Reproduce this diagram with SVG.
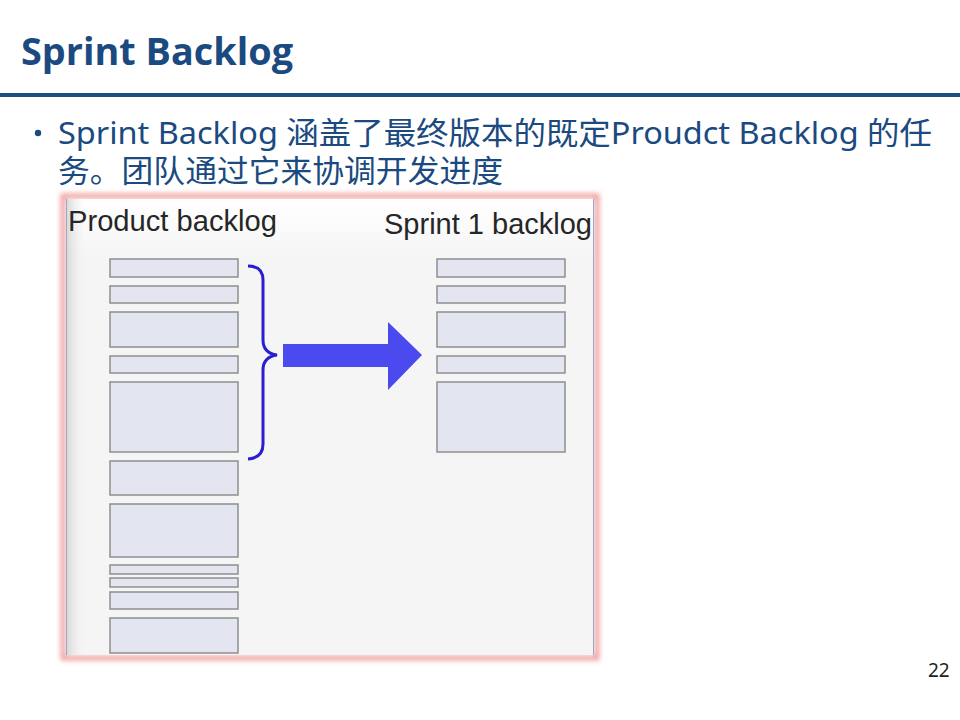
<svg xmlns="http://www.w3.org/2000/svg" width="960" height="720" viewBox="0 0 960 720">
<defs>
<style>
.title{font-family:"Open Sans","Noto Sans","Liberation Sans",sans-serif;font-weight:bold;font-size:37px;fill:#1a4a80}
.body{font-family:"Noto Sans","Noto Sans CJK SC",sans-serif;font-size:31px;fill:#1a4a80}
.lbl{font-family:"Liberation Sans",Arial,sans-serif;font-size:29px;fill:#262626}
.item{fill:#e3e6f0;stroke:#8e8e8e;stroke-width:1.5}
.pg{font-family:"Noto Sans","Liberation Sans",sans-serif;font-size:19px;fill:#222}
</style>
<linearGradient id="leftShade" x1="0" y1="0" x2="1" y2="0">
<stop offset="0" stop-color="#d6d6d6"/>
<stop offset="1" stop-color="#f5f5f5" stop-opacity="0"/>
</linearGradient>
<linearGradient id="topShade" x1="0" y1="0" x2="0" y2="1">
<stop offset="0" stop-color="#ffffff"/>
<stop offset="1" stop-color="#f5f5f5"/>
</linearGradient>
<filter id="glow" x="-5%" y="-5%" width="110%" height="110%">
<feGaussianBlur stdDeviation="2.5"/>
</filter>
</defs>
<rect width="960" height="720" fill="#ffffff"/>
<g id="header">
<text class="title" x="21" y="65" textLength="272" lengthAdjust="spacingAndGlyphs">Sprint Backlog</text>
<rect x="0" y="93" width="960" height="4" fill="#1d4e80"/>
</g>
<g id="bullet">
<circle cx="38" cy="133" r="3.2" fill="#1a4a80"/>
<text class="body" x="58" y="144" textLength="874" lengthAdjust="spacingAndGlyphs">Sprint Backlog 涵盖了最终版本的既定Proudct Backlog 的任</text>
<text class="body" x="58" y="182" textLength="445" lengthAdjust="spacingAndGlyphs">务。团队通过它来协调开发进度</text>
</g>
<g id="frame">
<rect x="63" y="196" width="534" height="462" fill="none" stroke="#f0a0a0" stroke-width="5" filter="url(#glow)"/>
<rect x="66" y="199" width="528" height="456" fill="#f5f5f5"/>
<rect x="66" y="199" width="528" height="60" fill="url(#topShade)"/>
<rect x="66" y="199" width="20" height="456" fill="url(#leftShade)"/>
<line x1="66.5" y1="199" x2="66.5" y2="655" stroke="#9aa8c8" stroke-width="1"/>
<line x1="593.5" y1="199" x2="593.5" y2="655" stroke="#9aa8c8" stroke-width="1"/>
</g>
<g id="product-backlog">
<text class="lbl" x="68" y="231" textLength="209" lengthAdjust="spacingAndGlyphs">Product backlog</text>
<rect class="item" x="110" y="259" width="128" height="18"/>
<rect class="item" x="110" y="286" width="128" height="17"/>
<rect class="item" x="110" y="312" width="128" height="35"/>
<rect class="item" x="110" y="356" width="128" height="17"/>
<rect class="item" x="110" y="382" width="128" height="70"/>
<rect class="item" x="110" y="461" width="128" height="34"/>
<rect class="item" x="110" y="504" width="128" height="53"/>
<rect class="item" x="110" y="565" width="128" height="9"/>
<rect class="item" x="110" y="578" width="128" height="9"/>
<rect class="item" x="110" y="592" width="128" height="17"/>
<rect class="item" x="110" y="618" width="128" height="35"/>
</g>
<g id="sprint-backlog">
<text class="lbl" x="384" y="234" textLength="208" lengthAdjust="spacingAndGlyphs">Sprint 1 backlog</text>
<rect class="item" x="437" y="259" width="128" height="18"/>
<rect class="item" x="437" y="286" width="128" height="17"/>
<rect class="item" x="437" y="312" width="128" height="35"/>
<rect class="item" x="437" y="356" width="128" height="17"/>
<rect class="item" x="437" y="382" width="128" height="70"/>
</g>
<g id="connectors">
<path d="M248,266 Q263,266 263,280 L263,340 Q263,353 277,355 Q263,357 263,370 L263,444 Q263,458 248,459" fill="none" stroke="#2a1fd0" stroke-width="3"/>
<path d="M283,344 L388,344 L388,322 L422,355 L388,390 L388,367 L283,367 Z" fill="#4a4aee"/>
</g>
<text class="pg" x="928" y="677">22</text>
</svg>
